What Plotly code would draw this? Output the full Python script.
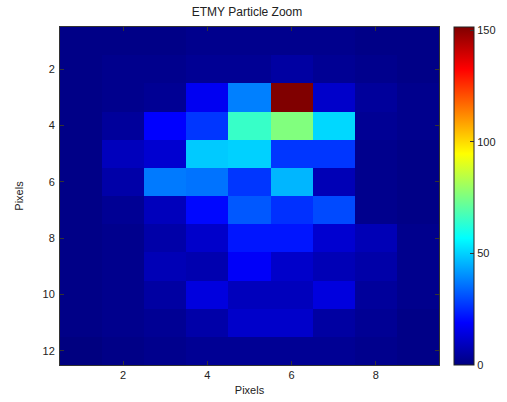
import plotly.graph_objects as go

# Particle image intensities (rows = y pixel 1..12, cols = x pixel 1..9)
x_pixels = [1, 2, 3, 4, 5, 6, 7, 8, 9]
y_pixels = [1, 2, 3, 4, 5, 6, 7, 8, 9, 10, 11, 12]
intensity = [
    [1, 1, 1, 2, 2, 2, 2, 1, 1],
    [1, 2, 2, 3, 3, 5, 3, 2, 1],
    [1, 2, 3, 17, 38, 151.5, 11, 4, 2],
    [1, 4, 19, 27, 65, 76, 51, 3, 2],
    [1, 9, 12, 49, 50, 27, 27, 2, 1],
    [1, 6, 37, 36, 27, 46, 8, 2, 1],
    [1, 3, 9, 20, 32, 26, 30, 2, 1],
    [1, 2, 6, 11, 22, 22, 12, 8, 2],
    [1, 2, 8, 7, 18, 11, 8, 6, 2],
    [1, 2, 5, 14, 9, 9, 14, 4, 2],
    [1, 2, 3, 6, 11, 11, 5, 3, 1],
    [0, 1, 2, 3, 3, 3, 3, 2, 1],
]
x_ticks = [2, 4, 6, 8]
y_ticks = [2, 4, 6, 8, 10, 12]
cbar_ticks = [0, 50, 100, 150]
c_min, c_max = 0, 151.5

# MATLAB-style jet colormap
jet = [
    [0.0, "rgb(0,0,128)"],
    [0.125, "rgb(0,0,255)"],
    [0.375, "rgb(0,255,255)"],
    [0.625, "rgb(255,255,0)"],
    [0.875, "rgb(255,0,0)"],
    [1.0, "rgb(128,0,0)"],
]

font = dict(family="Liberation Sans, Arial, sans-serif", size=11, color="#222222")

fig = go.Figure(
    go.Heatmap(
        x=x_pixels,
        y=y_pixels,
        z=intensity,
        colorscale=jet,
        zmin=c_min,
        zmax=c_max,
        colorbar=dict(
            xref="container",
            x=454 / 507,
            xanchor="left",
            xpad=0,
            thickness=20,
            thicknessmode="pixels",
            len=1,
            lenmode="fraction",
            y=0.5,
            yanchor="middle",
            ypad=0,
            tickvals=cbar_ticks,
            ticks="inside",
            ticklen=4,
            tickcolor="#333333",
            outlinecolor="#222222",
            outlinewidth=1,
            tickfont=font,
        ),
        hoverinfo="skip",
    )
)

fig.update_layout(
    width=507,
    height=402,
    margin=dict(l=60, r=68, t=27, b=37, autoexpand=False),
    paper_bgcolor="white",
    plot_bgcolor="white",
    font=font,
    title=dict(
        text="ETMY Particle Zoom",
        x=247 / 507,
        xanchor="center",
        y=1 - 12 / 402,
        yanchor="middle",
        font=dict(family="Liberation Sans, Arial, sans-serif", size=12, color="#222222"),
    ),
    xaxis=dict(
        range=[0.5, 9.5],
        tickvals=x_ticks,
        ticks="inside",
        ticklen=4,
        tickcolor="#333333",
        ticklabelstandoff=0,
        showgrid=False,
        zeroline=False,
        showline=True,
        linecolor="#333333",
        linewidth=1,
        mirror="ticks",
        automargin=False,
        title=dict(text="Pixels", standoff=6, font=font),
    ),
    yaxis=dict(
        range=[12.5, 0.5],
        tickvals=y_ticks,
        ticks="inside",
        ticklen=4,
        tickcolor="#333333",
        ticklabelstandoff=2,
        showgrid=False,
        zeroline=False,
        showline=True,
        linecolor="#333333",
        linewidth=1,
        mirror="ticks",
        automargin=False,
        title=dict(text="Pixels", standoff=16, font=font),
    ),
)

fig.write_html("out.html")
